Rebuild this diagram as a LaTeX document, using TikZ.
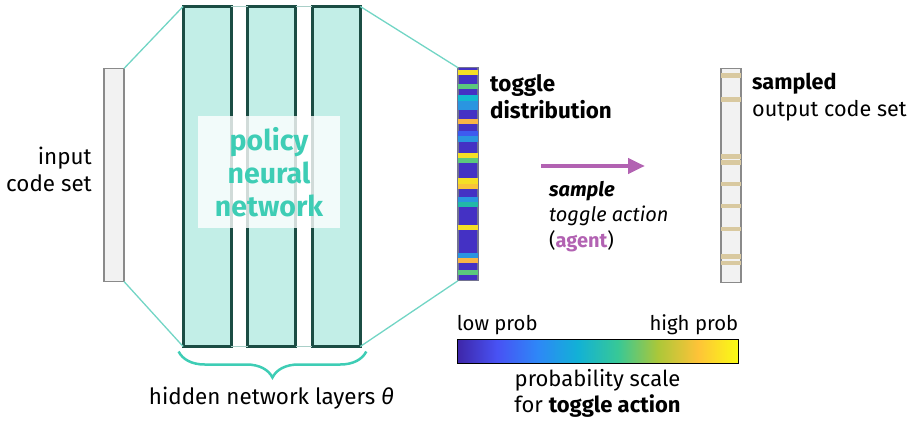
\documentclass[tikz,border=0pt]{standalone}
\usepackage{fontspec}
\setmainfont{Fira Sans}
\usetikzlibrary{arrows.meta,decorations.pathreplacing}
\definecolor{layerfill}{HTML}{C2EEE7}
\definecolor{layerdraw}{HTML}{1B4D44}
\definecolor{tealline}{HTML}{72D5C5}
\definecolor{gapline}{HTML}{A9CFC8}
\definecolor{policy}{HTML}{3ECDB5}
\definecolor{codefill}{HTML}{F2F2F2}
\definecolor{codedraw}{HTML}{8A8A8A}
\definecolor{agent}{HTML}{B262B2}
\definecolor{probbase}{HTML}{4431C4}
\definecolor{probdraw}{HTML}{737391}
\definecolor{sampled}{HTML}{D9C9A0}
% stripe colours
\definecolor{pyel}{HTML}{F5DF26}
\definecolor{pgreen}{HTML}{5BC87D}
\definecolor{pcyan}{HTML}{13B8D0}
\definecolor{pblue}{HTML}{2A95E0}
\definecolor{pblue2}{HTML}{3D5BF0}
\definecolor{porange}{HTML}{F8B545}
\definecolor{porange2}{HTML}{F8C43A}
\definecolor{pteal}{HTML}{22B8A8}
% parula scale
\definecolor{p0}{HTML}{3E26A8}
\definecolor{p1}{HTML}{4852F4}
\definecolor{p2}{HTML}{2E87F7}
\definecolor{p3}{HTML}{12B1D6}
\definecolor{p4}{HTML}{37C897}
\definecolor{p5}{HTML}{ABC739}
\definecolor{p6}{HTML}{FEC338}
\definecolor{p7}{HTML}{F9FB15}
\pgfdeclarehorizontalshading{parula}{100bp}{color(0bp)=(p0); color(25bp)=(p0); color(32.14bp)=(p1); color(39.29bp)=(p2); color(46.43bp)=(p3); color(53.57bp)=(p4); color(60.71bp)=(p5); color(67.86bp)=(p6); color(75bp)=(p7); color(100bp)=(p7)}

\begin{document}
\begin{tikzpicture}[
  x=1pt, y=-1pt,
  font=\fontsize{22.4}{27}\selectfont,
  codebar/.style={draw=codedraw, fill=codefill, line width=1.8pt, minimum width=20pt, minimum height=213pt, inner sep=0pt, outer sep=0pt},
  probbar/.style={codebar, draw=probdraw, fill=probbase, line width=1.4pt},
  layer/.style={draw=layerdraw, fill=layerfill, line width=2.8pt, minimum width=48.2pt, minimum height=340pt, inner sep=0pt, outer sep=0pt},
  funnel/.style={draw=tealline, line width=1.3pt},
  lbl/.style={align=left, anchor=west, inner sep=0pt},
  samplearrow/.style={-{Triangle[length=17pt,width=15pt]}, line width=4.5pt, draw=agent},
  brace/.style={decorate, decoration={brace, mirror, amplitude=26pt}, draw=policy, line width=2.5pt},
]
\useasboundingbox (0,0) rectangle (911,422);

% code sets and layers
\node[codebar] (input) at (114,175) {};
\node[layer] (l1) at (207.2,176.5) {};
\node[layer] (l2) at (271.7,176.5) {};
\node[layer] (l3) at (336.2,176.5) {};
\node[probbar] (tog) at (468,174.2) {};
\node[codebar, minimum height=214pt] (out) at (730.8,175.5) {};

\draw[gapline, line width=1pt] (l1.north east) -- (l2.north west) (l2.north east) -- (l3.north west);
\draw[gapline, line width=1pt] (l1.south east) -- (l2.south west) (l2.south east) -- (l3.south west);

\draw[funnel] (input.north east) -- (l1.north west);
\draw[funnel] (input.south east) -- (l1.south west);
\draw[funnel] (l3.north east) -- (tog.north west);
\draw[funnel] (l3.south east) -- (tog.south west);

% toggle probabilities
\foreach \ya/\yb/\c in {70.5/75.5/pyel, 84.3/89.3/pgreen, 95/100.7/pcyan, 100.7/110/pblue,
  119.3/124/porange, 131/136/pblue2, 136/141.7/pblue, 152.7/157.7/pyel, 158.3/163.3/pgreen,
  178.3/184.3/pyel, 184.3/189/porange2, 196.7/201.7/pblue, 201.7/206.7/pteal, 225/230/pyel,
  252.7/257.7/pblue, 258.3/263.3/porange, 270/275/pgreen}
  \fill[\c] (457.6,\ya) rectangle (478.4,\yb);

% sampled toggles
\foreach \yc in {75.5,99.5,156.5,162.5,183.8,206.2,228.8,256.5,262.8}
  \fill[sampled] (720.6,\yc-2.2) rectangle (741,\yc+2.2);

\node[fill=white, fill opacity=0.8, text opacity=1, minimum width=142pt, minimum height=112pt,
  text=policy, font=\fontsize{28.5}{33}\selectfont\bfseries, align=center] (pnn) at (269,172) {policy\\neural\\network};

\node[align=right, anchor=east, inner sep=0pt] (inlbl) at (92,169.5) {input\\code set};
\node[lbl, font=\fontsize{22.4}{27}\selectfont\bfseries] (toglbl) at (490,97) {toggle\\distribution};
\node[lbl, font=\fontsize{21.6}{27}\selectfont] (outlbl) at (752,97) {\textbf{sampled}\\output code set};

\coordinate (sfrom) at (541,166);
\coordinate (sto) at (645,166);
\draw[samplearrow] (sfrom) -- (sto);
\node[lbl, font=\fontsize{20}{25.5}\selectfont] (samplbl) at (549,216.5) {\textbf{\textit{sample}}\\\textit{toggle action}\\(\textbf{\color{agent}agent})};

% probability scale
\node[draw=black, line width=0.8pt, shading=parula, minimum width=281pt, minimum height=24pt, inner sep=0pt] (cbar) at (597.5,351.3) {};
\node[anchor=south west, inner sep=0pt, font=\fontsize{20.3}{25}\selectfont] (lowlbl) at ([yshift=4pt]cbar.north west) {low prob};
\node[anchor=south east, inner sep=0pt, font=\fontsize{20.3}{25}\selectfont] (highlbl) at ([yshift=4pt]cbar.north east) {high prob};
\node[align=center, font=\fontsize{22}{26}\selectfont] (scalelbl) at (597.5,393.5) {probability scale\\for \textbf{toggle action}};

% hidden layers
\draw[brace] ([xshift=-4.5pt,yshift=-5pt]l1.south west) -- ([xshift=6pt,yshift=-5pt]l3.south east);
\node (hidlbl) at (271.5,398) {hidden network layers \textit{θ}};

\end{tikzpicture}
\end{document}
